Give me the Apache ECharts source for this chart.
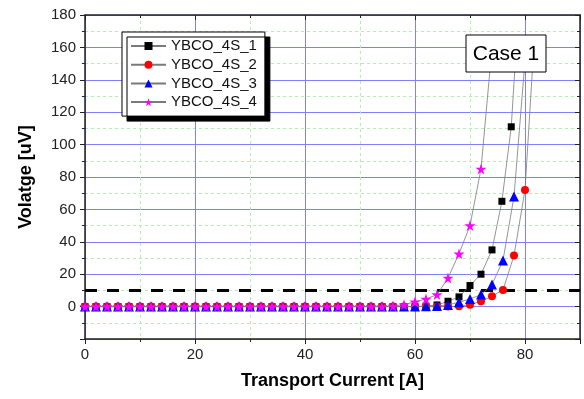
<!DOCTYPE html>
<html>
<head>
<meta charset="utf-8">
<script src="https://cdn.jsdelivr.net/npm/echarts@6/dist/echarts.min.js"></script>
<style>
  html, body { margin: 0; padding: 0; background: #fff; }
  #chart { width: 584px; height: 399px; }
</style>
</head>
<body>
<div id="chart"></div>
<script>
// Sample names
const seriesNames = ['YBCO_4S_1', 'YBCO_4S_2', 'YBCO_4S_3', 'YBCO_4S_4'];

// Transport current [A] and voltage [uV] for each sample
const current1 = [0,2,4,6,8,10,12,14,16,18,20,22,24,26,28,30,32,34,36,38,40,42,44,46,48,50,52,54,56,58,60,
                  62,64,66,68,70,72,74,75.8,77.5,78.4];
const voltage1 = [0,0,0,0,0,0,0,0,0,0,0,0,0,0,0,0,0,0,0,0,0,0,0,0,0,0,0,0,0,0,0,
                  0.3,1.0,3.3,6.0,13,20,35,65,111,160];

const current2 = [0,2,4,6,8,10,12,14,16,18,20,22,24,26,28,30,32,34,36,38,40,42,44,46,48,50,52,54,56,58,60,62,64,66,
                  68,70,72,74,76,78,80,81.6];
const voltage2 = [0,0,0,0,0,0,0,0,0,0,0,0,0,0,0,0,0,0,0,0,0,0,0,0,0,0,0,0,0,0,0,0,0,0,
                  0.2,1.2,3.3,6.4,10.3,31.5,72,160];

const current3 = [0,2,4,6,8,10,12,14,16,18,20,22,24,26,28,30,32,34,36,38,40,42,44,46,48,50,52,54,56,58,60,
                  62,64,66,68,70,72,74,76,78,80];
const voltage3 = [0,0,0,0,0,0,0,0,0,0,0,0,0,0,0,0,0,0,0,0,0,0,0,0,0,0,0,0,0,0,0,
                  0.2,0.4,1.0,2.7,4.7,7.4,13.6,28.5,68,152];

const current4 = [0,2,4,6,8,10,12,14,16,18,20,22,24,26,28,30,32,34,36,38,40,42,44,46,48,50,52,54,
                  56,58,60,62,64,66,68,70,72,74];
const voltage4 = [0,0,0,0,0,0,0,0,0,0,0,0,0,0,0,0,0,0,0,0,0,0,0,0,0,0,0,0,
                  0.3,1.2,3.0,4.7,7.4,17.7,32.6,50,85,160];

// Critical-current criterion line [uV]
const threshold = 10;

// Axis ranges
const xRange = [0, 90];
const yRange = [-20, 180];

const pairs = (xs, ys) => xs.map((x, i) => [x, ys[i]]);

const starPath = 'path://M50,0 L61,35 L98,35 L68,57 L79,91 L50,70 L21,91 L32,57 L2,35 L39,35 Z';
const markers = [
  { symbol: 'rect', size: 7, color: '#000000' },
  { symbol: 'circle', size: 8, color: '#ff0000' },
  { symbol: 'triangle', size: 10, color: '#0000ff' },
  { symbol: starPath, size: 11, color: '#ff00ff' }
];
const dataSets = [
  pairs(current1, voltage1),
  pairs(current2, voltage2),
  pairs(current3, voltage3),
  pairs(current4, voltage4)
];

const font = 'Arial, "Liberation Sans", sans-serif';
const axisColor = '#222';

const sampleSeries = dataSets.map((d, i) => ({
  name: seriesNames[i],
  type: 'line',
  data: d,
  symbol: markers[i].symbol,
  symbolSize: markers[i].size,
  showAllSymbol: true,
  itemStyle: { color: markers[i].color, borderWidth: 0 },
  lineStyle: { color: '#7a7a7a', width: 0.8 },
  emphasis: { disabled: true },
  z: 3 + i
}));

const chart = echarts.init(document.getElementById('chart'), null, { renderer: 'canvas' });

const hideValue = (hidden) => (v) => (v === hidden) ? '' : String(v);

chart.setOption({
  animation: false,
  backgroundColor: '#ffffff',
  grid: { left: 85, right: 4, top: 15, bottom: 60 },
  legend: {
    data: seriesNames,
    orient: 'vertical',
    left: 122,
    top: 32,
    itemWidth: 35,
    itemHeight: 10,
    itemGap: 2.7,
    padding: [6, 8, 6, 8],
    backgroundColor: '#ffffff',
    borderColor: '#000',
    borderWidth: 1,
    borderRadius: 0,
    shadowColor: '#000',
    shadowBlur: 0,
    shadowOffsetX: 5,
    shadowOffsetY: 5,
    textStyle: { fontFamily: font, fontSize: 15, lineHeight: 16, color: '#111' }
  },
  xAxis: [
    {
      type: 'value',
      min: xRange[0], max: xRange[1], interval: 20,
      name: 'Transport Current [A]',
      nameLocation: 'middle',
      nameGap: 33,
      nameTextStyle: { fontFamily: font, fontSize: 18, fontWeight: 'bold', color: '#000' },
      axisLine: { show: true, onZero: false, lineStyle: { color: axisColor, width: 1.5 } },
      axisTick: { show: true, inside: false, length: 5, lineStyle: { color: axisColor, width: 1 } },
      minorTick: { show: true, splitNumber: 2, length: 3, lineStyle: { color: axisColor, width: 1 } },
      axisLabel: { fontFamily: font, fontSize: 15, color: '#222', margin: 8, formatter: hideValue(90) },
      splitLine: { show: true, lineStyle: { color: '#8080ff', width: 1 } },
      minorSplitLine: { show: true, lineStyle: { color: '#b4ecb4', width: 1, type: [3, 3] } }
    },
    {
      type: 'value',
      position: 'top',
      min: xRange[0], max: xRange[1], interval: 20,
      axisLine: { show: true, onZero: false, lineStyle: { color: axisColor, width: 1.5 } },
      axisTick: { show: true, inside: true, length: 5, lineStyle: { color: axisColor, width: 1 } },
      minorTick: { show: true, splitNumber: 2, length: 3, lineStyle: { color: axisColor, width: 1 } },
      axisLabel: { show: false },
      splitLine: { show: false }
    }
  ],
  yAxis: [
    {
      type: 'value',
      min: yRange[0], max: yRange[1], interval: 20,
      name: 'Volatge [uV]',
      nameLocation: 'middle',
      nameGap: 50,
      nameTextStyle: { fontFamily: font, fontSize: 18, fontWeight: 'bold', color: '#000' },
      axisLine: { show: true, onZero: false, lineStyle: { color: axisColor, width: 1.5 } },
      axisTick: { show: true, inside: false, length: 5, lineStyle: { color: axisColor, width: 1 } },
      minorTick: { show: true, splitNumber: 2, length: 3, lineStyle: { color: axisColor, width: 1 } },
      axisLabel: { fontFamily: font, fontSize: 15, color: '#222', margin: 9, formatter: hideValue(-20) },
      splitLine: { show: true, lineStyle: { color: '#8080ff', width: 1 } },
      minorSplitLine: { show: true, lineStyle: { color: '#b4ecb4', width: 1, type: [3, 3] } }
    },
    {
      type: 'value',
      position: 'right',
      min: yRange[0], max: yRange[1], interval: 20,
      axisLine: { show: true, onZero: false, lineStyle: { color: axisColor, width: 1.5 } },
      axisTick: { show: true, inside: true, length: 5, lineStyle: { color: axisColor, width: 1 } },
      minorTick: { show: true, splitNumber: 2, length: 3, lineStyle: { color: axisColor, width: 1 } },
      axisLabel: { show: false },
      splitLine: { show: false }
    }
  ],
  series: [
    {
      name: 'criterion',
      type: 'line',
      data: [[xRange[0], threshold], [xRange[1], threshold]],
      symbol: 'none',
      lineStyle: { color: '#000', width: 3, type: [12, 10] },
      emphasis: { disabled: true },
      z: 2
    },
    ...sampleSeries
  ],
  graphic: {
    elements: [
      {
        type: 'rect',
        z: 100,
        zlevel: 1,
        shape: { x: 466, y: 35, width: 80, height: 37 },
        style: { fill: '#fff', stroke: '#000', lineWidth: 1 }
      },
      {
        type: 'text',
        z: 101,
        zlevel: 1,
        x: 506, y: 54,
        style: { text: 'Case 1', font: '21px Arial, "Liberation Sans", sans-serif', fill: '#000', align: 'center', verticalAlign: 'middle' }
      }
    ]
  }
});
</script>
</body>
</html>
